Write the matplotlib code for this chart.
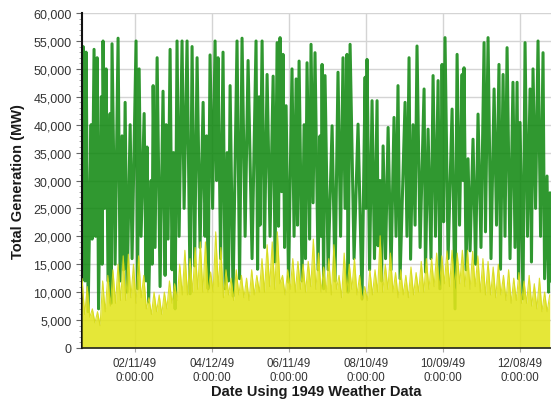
import numpy as np
import matplotlib
matplotlib.use('Agg')
import matplotlib.pyplot as plt
import matplotlib.dates as mdates
from matplotlib.ticker import MultipleLocator, FuncFormatter
from datetime import datetime

plt.rcParams['font.family'] = ['Liberation Sans', 'DejaVu Sans']

# total generation: alternating highs and lows, day of year 1949
green_day = [0, 0.8, 2.3, 3.1, 4.7, 7.0, 7.8, 9.3, 10.5, 11.7, 12.8, 14.8, 15.6, 16.3, 17.5, 18.7,
             20.2, 21.8, 22.6, 23.3, 25.7, 28.0, 29.6, 31.1, 32.3, 33.5, 35.0, 37.4, 38.9, 42.0,
             43.2, 44.4, 45.9, 48.3, 49.8, 50.6, 51.8, 53.7, 54.5, 55.3, 56.8, 58.4, 60.7, 63.0,
             64.6, 65.4, 66.9, 68.5, 70.0, 71.2, 72.4, 73.9, 75.5, 77.8, 79.4, 81.7, 84.1, 85.6,
             87.6, 89.5, 91.8, 94.2, 95.7, 96.9, 98.1, 99.6, 101.6, 103.5, 104.7, 105.8, 107.8,
             109.7, 111.3, 112.9, 114.0, 115.2, 117.5, 120.6, 122.6, 124.5, 126.9, 129.2, 132.3,
             135.4, 136.6, 137.8, 138.5, 140.1, 142.0, 144.0, 146.3, 148.7, 150.2, 151.8, 152.9,
             154.1, 155.3, 156.4, 157.6, 158.8, 160.7, 163.4, 165.0, 166.6, 167.7, 168.9, 171.2,
             172.8, 173.9, 175.1, 177.1, 178.2, 179.8, 181.3, 183.7, 185.2, 186.0, 186.8, 188.0,
             189.1, 191.5, 194.6, 196.9, 199.2, 201.2, 203.1, 204.7, 206.2, 207.0, 208.6, 211.7,
             214.8, 217.9, 220.3, 221.0, 221.8, 223.8, 225.7, 227.6, 229.6, 230.4, 231.9, 233.1,
             234.3, 236.2, 238.2, 240.5, 242.8, 244.4, 245.9, 247.5, 251.4, 252.9, 254.5, 255.7,
             257.6, 259.2, 260.7, 263.1, 266.2, 267.3, 269.3, 271.6, 273.2, 275.1, 277.1, 278.6,
             280.2, 281.4, 282.5, 284.9, 288.0, 290.3, 291.9, 293.8, 295.8, 296.5, 297.3, 298.9,
             300.4, 302.0, 304.3, 306.3, 308.2, 310.5, 312.9, 314.0, 316.0, 318.3, 320.7, 322.6,
             324.5, 325.7, 327.7, 329.2, 330.8, 333.1, 335.4, 337.0, 338.6, 339.7, 340.9, 343.2,
             344.8, 346.7, 348.7, 349.8, 351.0, 353.0, 354.9, 356.9, 358.8, 360.0, 361.9, 363.1,
             364.2, 365.0]
green_mw = [30000, 54000, 12000, 53000, 6500, 40000, 19500, 53500, 20000, 52000, 7000, 45000, 15000, 55000, 25000, 50000,
            12000, 42000, 8000, 54500, 15000, 55500, 12000, 38000, 14000, 44000, 10000, 40000, 16000, 55000,
            10600, 50000, 20000, 42000, 12000, 36000, 8200, 30000, 15000, 47000, 18000, 52000, 11000, 46000,
            13000, 40000, 19500, 53500, 14000, 35000, 7000, 55000, 20000, 55000, 25000, 55000, 9700, 54000,
            14700, 52000, 18000, 44000, 20000, 38000, 10600, 52500, 25000, 55000, 30000, 52000, 16000,
            53000, 10600, 35000, 12000, 47000, 9300, 55000, 12400, 55500, 20000, 51500, 16000,
            55000, 14100, 45000, 22000, 55000, 18000, 49000, 20000, 48700, 15400, 54700, 21800,
            55600, 28000, 52600, 18000, 43400, 11800, 50000, 20000, 48200, 22000, 51400, 12000,
            40000, 16000, 51100, 19500, 54400, 26000, 52900, 14000, 38000, 20000, 50800, 10600,
            48800, 14000, 39800, 12000, 49400, 20000, 52000, 25000, 52600, 10000, 54400, 16000,
            40100, 8800, 48500, 25000, 51700, 14000, 44300, 16000, 44300, 18300, 30000, 12000,
            36200, 16000, 39500, 14000, 41300, 20000, 47000, 12400, 44000, 20000, 52000, 15900,
            40000, 22000, 54100, 18000, 46400, 13600, 39200, 16000, 48800, 20000, 47900, 10600,
            50800, 22600, 55600, 16000, 42800, 7000, 52600, 22000, 49000, 30000, 50200, 14000,
            33900, 17400, 37400, 15000, 41900, 18000, 54700, 20800, 55600, 16000, 46400, 22000,
            50800, 14100, 49000, 20000, 53800, 16000, 47600, 18000, 47600, 12400, 40400, 8800,
            54700, 20000, 46400, 15400, 50000, 25000, 55000, 20000, 52900, 12400, 30800, 10000,
            27800, 12000]

# second series, sampled every 2 days
yellow_mw = [12400, 6000, 11000, 5500, 7000, 4500, 6500, 4000,
             12000, 6500, 13000, 7500, 14000, 8000, 15000, 8500,
             16500, 8500, 16800, 9000, 15000, 8000, 16500, 9000,
             13000, 7000, 9000, 6000, 10000, 6500, 9500, 6000,
             10000, 7000, 12000, 8000, 11500, 8500, 15000, 9500,
             17500, 9500, 16000, 10000, 18000, 10500, 19000, 10000,
             19000, 10000, 13600, 10000, 20800, 11000, 18000, 9000,
             14000, 9500, 12500, 8500, 14000, 9500, 13000, 9000,
             12500, 8500, 14000, 9500, 13000, 10000, 16000, 10000,
             18500, 11000, 19000, 10500, 20800, 11500, 13000, 9500,
             14000, 10500, 16000, 10000, 15500, 10500, 15000, 10000,
             15500, 11000, 19500, 10500, 17000, 10000, 14500, 10000,
             16000, 9500, 18500, 10500, 13000, 9000, 17000, 10000,
             15000, 10500, 16000, 9500, 13000, 8500, 11000, 8500,
             14000, 9500, 14000, 10000, 20100, 10000, 15000, 10500,
             17000, 10000, 13500, 9000, 14000, 9500, 13000, 9000,
             14500, 9500, 13500, 10000, 15500, 10000, 16000, 10500,
             16000, 11000, 17000, 10500, 16500, 11500, 17400, 11000,
             17500, 10500, 17000, 11500, 17500, 11000, 17500, 10500,
             17300, 11000, 16500, 10000, 16000, 9500, 15500, 9500,
             14500, 9000, 15000, 9500, 13000, 8500, 14000, 8000,
             12500, 8500, 13500, 8000, 12000, 8000, 13000, 7500,
             11500, 7000, 12500, 6500, 10000, 6500, 9500]
yellow_day = np.arange(len(yellow_mw)) * 2

tick_dates = ['1949-02-11', '1949-04-12', '1949-06-11', '1949-08-10', '1949-10-09', '1949-12-08']
tick_labels = ['02/11/49\n0:00:00', '04/12/49\n0:00:00', '06/11/49\n0:00:00',
               '08/10/49\n0:00:00', '10/09/49\n0:00:00', '12/08/49\n0:00:00']

t0 = mdates.date2num(datetime(1949, 1, 1))
gx = t0 + np.array(green_day)
yx = t0 + yellow_day

fig = plt.figure(figsize=(5.51, 4.02), dpi=100)
ax = fig.add_axes([0.149, 0.132, 0.851, 0.833])

ax.plot(gx, green_mw, color='#0e870e', lw=2.2, alpha=0.86, zorder=2)
ax.fill_between(yx, 0, yellow_mw, color='#e2e41c', alpha=0.88, lw=0, zorder=3)
ax.plot(yx, yellow_mw, color='#d6da1a', lw=0.8, alpha=0.9, zorder=3)

ax.set_xlim(t0, t0 + 365)
ax.set_ylim(0, 60000)
ax.yaxis.set_major_locator(MultipleLocator(5000))
ax.yaxis.set_minor_locator(MultipleLocator(1000))
ax.yaxis.set_major_formatter(FuncFormatter(lambda v, p: f'{int(v):,}'))
ax.set_xticks([mdates.datestr2num(d) for d in tick_dates])
ax.set_xticklabels(tick_labels)

ax.grid(True, which='major', color='#d4d4d4', lw=1.0, zorder=0)
ax.set_axisbelow(True)
for s in ['top', 'right']:
    ax.spines[s].set_visible(False)
ax.spines['left'].set_linewidth(1.5)
ax.spines['left'].set_color('#111111')
ax.spines['bottom'].set_linewidth(1.2)
ax.spines['bottom'].set_color('#222222')
ax.spines['bottom'].set_zorder(5)

ax.tick_params(axis='y', which='major', length=4, color='#666666', labelsize=9, labelcolor='#333333')
ax.tick_params(axis='y', which='minor', length=2, color='#999999')
ax.tick_params(axis='x', length=3, color='#aaaaaa', labelsize=8.3, labelcolor='#333333')

ax.set_ylabel('Total Generation (MW)', fontsize=10.5, fontweight='bold', color='#1a1a1a', labelpad=6)
ax.set_xlabel('Date Using 1949 Weather Data', fontsize=10.5, fontweight='bold', color='#1a1a1a', labelpad=1)

fig.savefig('out.png', dpi=100)
